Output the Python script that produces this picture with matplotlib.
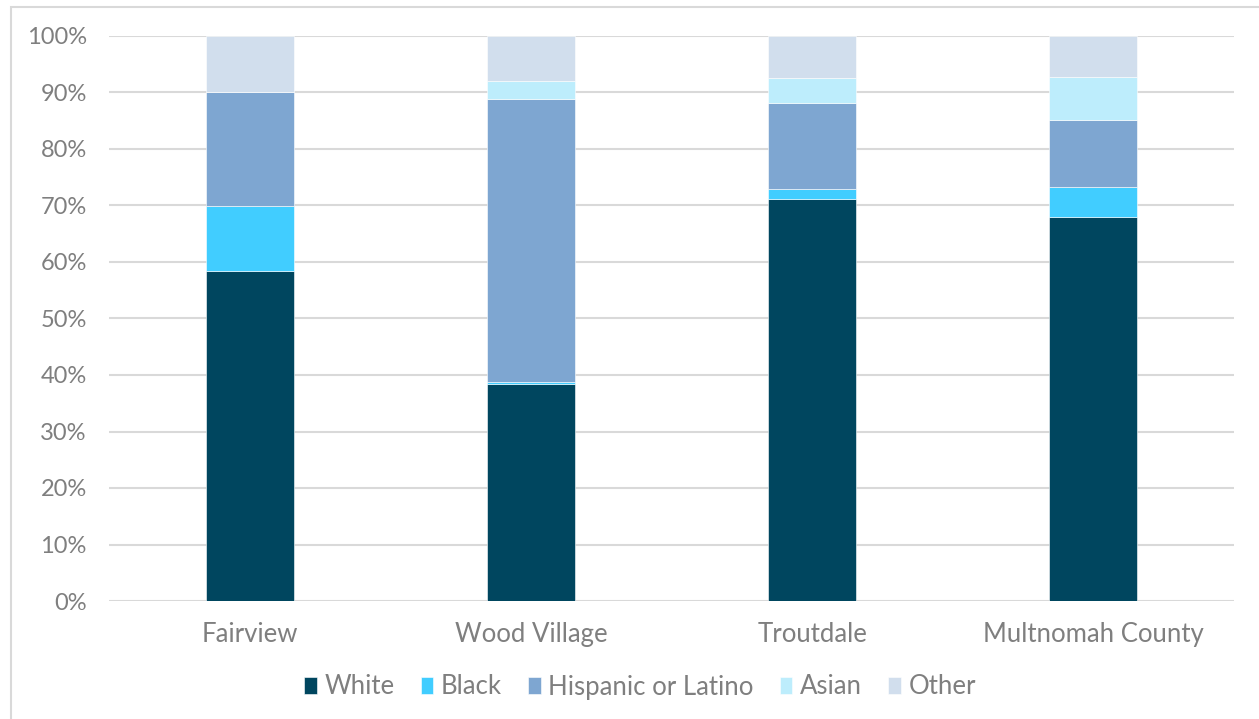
import matplotlib
matplotlib.use("Agg")
import matplotlib.pyplot as plt
from matplotlib.patches import Rectangle
from matplotlib.ticker import PercentFormatter
import numpy as np

plt.rcParams['font.family'] = ['Lato', 'DejaVu Sans']

# Population share by race / ethnicity (percent)
places = ["Fairview", "Wood Village", "Troutdale", "Multnomah County"]
groups = ["White", "Black", "Hispanic or Latino", "Asian", "Other"]
white = [58.4, 38.4, 71.2, 68.0]
black = [11.5, 0.4, 1.8, 5.2]
hispanic = [20.1, 50.0, 15.1, 11.9]
asian = [0.0, 3.2, 4.5, 7.6]
other = [10.0, 8.0, 7.4, 7.3]
colors = ["#00465f", "#41cdff", "#7ea6d1", "#bdedfc", "#d1deed"]

series = [white, black, hispanic, asian, other]
text_col = "#7f7f7f"

fig = plt.figure(figsize=(12.59, 7.19), dpi=100)
ax = fig.add_axes([109 / 1259, 1 - 601 / 719, 1125 / 1259, 565 / 719])

# light frame around the chart area
fig.patches.append(Rectangle((11 / 1259, -0.05), 1.2, 1 - 7 / 719 + 0.05,
                             transform=fig.transFigure, fill=False,
                             edgecolor="#d9d9d9", linewidth=1.5))

x = np.arange(len(places))
bottom = np.zeros(len(places))
for name, vals, col in zip(groups, series, colors):
    ax.bar(x, vals, width=0.313, bottom=bottom, color=col, label=name,
           edgecolor="white", linewidth=0.4, zorder=3)
    bottom += np.array(vals)

ax.set_xlim(-0.5, len(places) - 0.5)
ax.set_ylim(0, 100)
ax.set_yticks(np.arange(0, 101, 10))
ax.yaxis.set_major_formatter(PercentFormatter(decimals=0))
ax.set_xticks(x)
ax.set_xticklabels(places)
ax.grid(axis="y", color="#d9d9d9", linewidth=1.5, zorder=0)
for s in ax.spines.values():
    s.set_visible(False)
ax.tick_params(axis="both", length=0, colors=text_col)
ax.tick_params(axis="y", pad=16, labelsize=17)
ax.tick_params(axis="x", pad=15, labelsize=18.5)

leg = ax.legend(loc="center", bbox_to_anchor=(640 / 1259, 32 / 719),
                bbox_transform=fig.transFigure, ncol=5, frameon=False,
                fontsize=18.5, handlelength=0.5, handleheight=0.6,
                handletextpad=0.3, columnspacing=1.0)
for t in leg.get_texts():
    t.set_color(text_col)

fig.savefig("out.png", dpi=100)
